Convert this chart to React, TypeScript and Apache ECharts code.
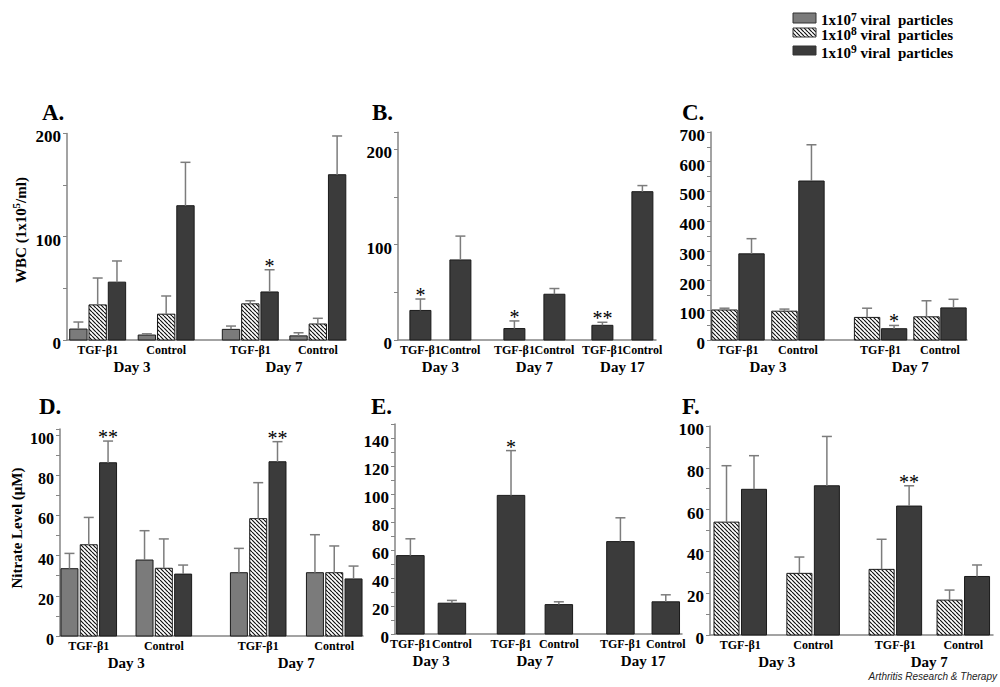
import React, { useEffect, useRef } from "react";
import * as echarts from "echarts";

// ---------- data ----------
const DOSE_EXPONENTS = ["7", "8", "9"];
const GROUPS_4 = ["TGF-β1", "Control", "TGF-β1", "Control"];
const GROUPS_6 = ["TGF-β1", "Control", "TGF-β1", "Control", "TGF-β1", "Control"];
const DAYS_2 = ["Day 3", "Day 7"];
const DAYS_3 = ["Day 3", "Day 7", "Day 17"];

// y tick labels per panel
const TICKS_A = [0, 100, 200];
const TICKS_B = [0, 100, 200];
const TICKS_C = [0, 100, 200, 300, 400, 500, 600, 700];
const TICKS_D = [0, 20, 40, 60, 80, 100];
const TICKS_E = [0, 20, 40, 60, 80, 100, 120, 140];
const TICKS_F = [0, 20, 40, 60, 80, 100];

// A. WBC, groups: D3 TGF, D3 Ctrl, D7 TGF, D7 Ctrl
const A_V7 = [10.6, 4.8, 10.3, 4.0];
const A_E7 = [17.4, 6.0, 13.5, 7.0];
const A_V8 = [34, 25, 35, 15.5];
const A_E8 = [60, 42.6, 38, 21];
const A_V9 = [56, 130, 46.5, 160];
const A_E9 = [76.5, 172, 68, 197.5];
const A_S9 = ["", "", "*", ""];

// B. WBC, 1x10^9 only: D3 TGF, D3 Ctrl, D7 TGF, D7 Ctrl, D17 TGF, D17 Ctrl
const B_V9 = [31, 84, 12, 48, 15.4, 155.6];
const B_E9 = [43, 109, 20, 54, 18.6, 162];
const B_S9 = ["*", "", "*", "", "**", ""];

// C. WBC
const C_V8 = [101, 97, 76, 78];
const C_E8 = [107, 104, 107, 132];
const C_V9 = [290, 535, 38, 108];
const C_E9 = [341, 657, 49, 137];
const C_S9 = ["", "", "*", ""];

// D. Nitrate
const D_V7 = [33.5, 37.8, 31.5, 31.5];
const D_E7 = [41.1, 52.4, 43.6, 50.4];
const D_V8 = [45.4, 33.7, 58.4, 31.5];
const D_E8 = [59, 48.3, 76.3, 44.8];
const D_V9 = [86.2, 30.8, 86.7, 28.4];
const D_E9 = [97, 35.3, 96.7, 34.8];
const D_S9 = ["**", "", "**", ""];

// E. Nitrate, 1x10^9 only
const E_V9 = [56, 22, 99, 21, 66, 23];
const E_E9 = [68, 24, 131, 23, 83, 28];
const E_S9 = ["", "", "*", "", "", ""];

// F. Nitrate
const F_V8 = [54, 29.5, 31.4, 16.7];
const F_E8 = [81, 37.3, 45.8, 21.5];
const F_V9 = [69.7, 71.4, 61.7, 28];
const F_E9 = [85.8, 95, 71.4, 33.5];
const F_S9 = ["", "", "**", ""];

// ---------- styles ----------
const SERIF = "Liberation Serif";
const AXIS_GRAY = "#858585";
const ERR_GRAY = "#7c7c7c";
const FILL7 = "#7b7b7b";
const FILL9 = "#3b3b3b";

function makeHatch() {
  const s = 4;
  const c = document.createElement("canvas");
  c.width = s;
  c.height = s;
  const ctx = c.getContext("2d")!;
  ctx.fillStyle = "#ffffff";
  ctx.fillRect(0, 0, s, s);
  ctx.strokeStyle = "#111111";
  ctx.lineWidth = 1.2;
  ctx.beginPath();
  for (const k of [-s, 0, s]) {
    ctx.moveTo(k, 0);
    ctx.lineTo(k + s, s);
  }
  ctx.stroke();
  return { image: c, repeat: "repeat", imageWidth: s, imageHeight: s };
}

type SeriesDef = { dose: number; values: number[]; errors: number[]; stars?: string[] };
type PanelDef = {
  letter: string;
  letterPos: [number, number];
  grid: { left: number; top: number; width: number; height: number };
  yMax: number;
  yInterval: number;
  ticks: number[];
  labelSize: number;
  xMax: number;
  groupX: number[];
  barW: number;
  series: SeriesDef[];
  groups: string[];
  days: string[];
};

const PANELS: PanelDef[] = [
  {
    letter: "A.", letterPos: [42, 112],
    grid: { left: 67, top: 133.4, width: 279, height: 206.6 },
    yMax: 200, yInterval: 50, ticks: TICKS_A, labelSize: 17,
    xMax: 14.46, groupX: [0.59, 4.14, 8.5, 12.0], barW: 0.9,
    series: [
      { dose: 0, values: A_V7, errors: A_E7 },
      { dose: 1, values: A_V8, errors: A_E8 },
      { dose: 2, values: A_V9, errors: A_E9, stars: A_S9 },
    ],
    groups: GROUPS_4, days: DAYS_2,
  },
  {
    letter: "B.", letterPos: [372, 112],
    grid: { left: 398, top: 132.2, width: 258, height: 207.8 },
    yMax: 218, yInterval: 50, ticks: TICKS_B, labelSize: 17,
    xMax: 6.45, groupX: [0.56, 1.56, 2.91, 3.91, 5.11, 6.11], barW: 0.525,
    series: [{ dose: 2, values: B_V9, errors: B_E9, stars: B_S9 }],
    groups: GROUPS_6, days: DAYS_3,
  },
  {
    letter: "C.", letterPos: [682, 112],
    grid: { left: 711, top: 132, width: 256, height: 208 },
    yMax: 700, yInterval: 50, ticks: TICKS_C, labelSize: 17,
    xMax: 9.48, groupX: [0.5, 2.72, 5.78, 7.98], barW: 0.94,
    series: [
      { dose: 1, values: C_V8, errors: C_E8 },
      { dose: 2, values: C_V9, errors: C_E9, stars: C_S9 },
    ],
    groups: GROUPS_4, days: DAYS_2,
  },
  {
    letter: "D.", letterPos: [39, 406],
    grid: { left: 60, top: 429, width: 303, height: 207 },
    yMax: 103, yInterval: 10, ticks: TICKS_D, labelSize: 16,
    xMax: 15.7, groupX: [0.49, 4.38, 9.27, 13.21], barW: 0.88,
    series: [
      { dose: 0, values: D_V7, errors: D_E7 },
      { dose: 1, values: D_V8, errors: D_E8 },
      { dose: 2, values: D_V9, errors: D_E9, stars: D_S9 },
    ],
    groups: GROUPS_4, days: DAYS_2,
  },
  {
    letter: "E.", letterPos: [371, 406],
    grid: { left: 395, top: 424, width: 287, height: 210 },
    yMax: 150, yInterval: 10, ticks: TICKS_E, labelSize: 17,
    xMax: 10.44, groupX: [0.56, 2.07, 4.22, 5.96, 8.2, 9.85], barW: 1.0,
    series: [{ dose: 2, values: E_V9, errors: E_E9, stars: E_S9 }],
    groups: GROUPS_6, days: DAYS_3,
  },
  {
    letter: "F.", letterPos: [682, 406],
    grid: { left: 710, top: 426, width: 283, height: 209 },
    yMax: 100, yInterval: 10, ticks: TICKS_F, labelSize: 17,
    xMax: 10.29, groupX: [0.6, 3.25, 6.24, 8.71], barW: 0.91,
    series: [
      { dose: 1, values: F_V8, errors: F_E8 },
      { dose: 2, values: F_V9, errors: F_E9, stars: F_S9 },
    ],
    groups: GROUPS_4, days: DAYS_2,
  },
];

function buildOption(hatch: any) {
  const fills = [FILL7, hatch, FILL9];
  const grids: any[] = [];
  const xAxes: any[] = [];
  const yAxes: any[] = [];
  const series: any[] = [];
  const graphics: any[] = [];

  PANELS.forEach((p, pi) => {
    grids.push({ ...p.grid });
    xAxes.push({
      type: "value", gridIndex: pi, min: 0, max: p.xMax,
      axisLine: { show: true, onZero: false, lineStyle: { color: AXIS_GRAY, width: 1.5 } },
      axisTick: { show: false }, axisLabel: { show: false }, splitLine: { show: false },
    });
    yAxes.push({
      type: "value", gridIndex: pi, min: 0, max: p.yMax, interval: p.yInterval,
      axisLine: { show: true, lineStyle: { color: AXIS_GRAY, width: 1.5 } },
      axisTick: { show: true, length: 4, lineStyle: { color: AXIS_GRAY, width: 1 } },
      splitLine: { show: false },
      axisLabel: { show: false },
    });

    // y tick labels, placed through the y scale
    series.push({
      type: "custom", xAxisIndex: pi, yAxisIndex: pi, silent: true, z: 4,
      data: p.ticks.map((t) => [0, t]),
      renderItem: (params: any, api: any) => {
        const pt = api.coord([0, api.value(1)]);
        return {
          type: "text", x: pt[0] - 6, y: pt[1] + 3.5,
          style: {
            text: String(api.value(1)), fill: "#000", fontFamily: SERIF, fontWeight: "bold",
            fontSize: p.labelSize, align: "right", verticalAlign: "middle",
          },
        };
      },
    });

    const nS = p.series.length;
    p.series.forEach((s, k) => {
      const data = s.values.map((v, g) => [p.groupX[g] + k, v, s.errors[g], g]);
      series.push({
        type: "custom", xAxisIndex: pi, yAxisIndex: pi, data, silent: true, z: 3,
        renderItem: (params: any, api: any) => {
          const x = api.value(0);
          const v = api.value(1);
          const e = api.value(2);
          const g = api.value(3);
          const base = api.coord([x, 0]);
          const top = api.coord([x, v]);
          const et = api.coord([x, e]);
          const w = api.size([p.barW, 0])[0];
          const children: any[] = [
            {
              type: "rect",
              shape: { x: base[0] - w / 2, y: top[1], width: w, height: base[1] - top[1] },
              style: { fill: fills[s.dose], stroke: "#1a1a1a", lineWidth: 1 },
            },
            {
              type: "line",
              shape: { x1: base[0], y1: top[1], x2: base[0], y2: et[1] },
              style: { stroke: ERR_GRAY, lineWidth: 1.5 },
            },
            {
              type: "line",
              shape: { x1: base[0] - 5, y1: et[1], x2: base[0] + 5, y2: et[1] },
              style: { stroke: ERR_GRAY, lineWidth: 1.5 },
            },
          ];
          const star = s.stars ? s.stars[g] : "";
          if (star) {
            children.push({
              type: "text", x: base[0], y: et[1] + 6,
              style: {
                text: star, fill: "#000", fontFamily: SERIF, fontSize: 20,
                align: "center", verticalAlign: "bottom",
              },
            });
          }
          return { type: "group", children };
        },
      });
    });

    // category + day labels
    const labelData: number[][] = [];
    const groupCenters = p.groupX.map((gx) => gx + (nS - 1) / 2);
    groupCenters.forEach((c, gi) => labelData.push([c, 0, gi]));
    p.days.forEach((_, di) => {
      const c = (groupCenters[2 * di] + groupCenters[2 * di + 1]) / 2;
      labelData.push([c, 1, di]);
    });
    series.push({
      type: "custom", xAxisIndex: pi, yAxisIndex: pi, data: labelData, silent: true, z: 4,
      renderItem: (params: any, api: any) => {
        const x = api.value(0);
        const kind = api.value(1);
        const idx = api.value(2);
        const pt = api.coord([x, 0]);
        const isDay = kind === 1;
        return {
          type: "text",
          x: pt[0],
          y: pt[1] + (isDay ? 26.5 : 10),
          style: {
            text: isDay ? p.days[idx] : p.groups[idx],
            fill: "#000", fontFamily: SERIF, fontWeight: "bold",
            fontSize: isDay ? 15 : 12, align: "center", verticalAlign: "middle",
          },
        };
      },
    });

    graphics.push({
      type: "text", x: p.letterPos[0], y: p.letterPos[1],
      style: {
        text: p.letter, fill: "#000", fontFamily: SERIF, fontWeight: "bold", fontSize: 23,
        align: "left", verticalAlign: "middle",
      },
    });
  });

  // y-axis titles
  const supRich = {
    n: { fontFamily: SERIF, fontWeight: "bold", fontSize: 15, lineHeight: 18, verticalAlign: "bottom", fill: "#000" },
    s: { fontFamily: SERIF, fontWeight: "bold", fontSize: 11, lineHeight: 18, verticalAlign: "top", fill: "#000", padding: [0, 0, 6, 0] },
  };
  graphics.push({
    type: "text", x: 19, y: 230, rotation: Math.PI / 2,
    style: {
      text: "{n|WBC (1x10}{s|5}{n|/ml)}", rich: supRich, align: "center", verticalAlign: "middle",
    },
  });
  graphics.push({
    type: "text", x: 17, y: 528, rotation: Math.PI / 2,
    style: {
      text: "Nitrate Level (μM)", fill: "#000", fontFamily: SERIF, fontWeight: "bold", fontSize: 15,
      align: "center", verticalAlign: "middle",
    },
  });

  // legend
  const legendRows = [
    { y: 13, h: 10 },
    { y: 28, h: 9 },
    { y: 46, h: 9 },
  ];
  const legRich = {
    n: { fontFamily: SERIF, fontWeight: "bold", fontSize: 15, lineHeight: 17, verticalAlign: "bottom", fill: "#000" },
    s: { fontFamily: SERIF, fontWeight: "bold", fontSize: 11.5, lineHeight: 17, verticalAlign: "top", fill: "#000", padding: [0, 0, 7, 0] },
  };
  DOSE_EXPONENTS.forEach((ex, i) => {
    const r = legendRows[i];
    graphics.push({
      type: "rect", shape: { x: 793, y: r.y, width: 23, height: r.h },
      style: { fill: fills[i], stroke: "#333", lineWidth: 1 },
    });
    graphics.push({
      type: "text", x: 821, y: r.y + r.h / 2 + 1,
      style: { text: `{n|1x10}{s|${ex}}{n| viral  particles}`, rich: legRich, align: "left", verticalAlign: "middle" },
    });
  });

  graphics.push({
    type: "text", x: 997, y: 676,
    style: {
      text: "Arthritis Research & Therapy", fill: "#222",
      fontFamily: "Liberation Sans", fontStyle: "italic", fontSize: 10,
      align: "right", verticalAlign: "middle",
    },
  });

  return {
    animation: false,
    backgroundColor: "#ffffff",
    grid: grids,
    xAxis: xAxes,
    yAxis: yAxes,
    series,
    graphic: graphics,
  };
}

export default function App() {
  const ref = useRef<HTMLDivElement>(null);
  useEffect(() => {
    if (!ref.current) return;
    const chart = echarts.init(ref.current, null, { renderer: "svg" });
    chart.setOption(buildOption(makeHatch()) as any);
    return () => chart.dispose();
  }, []);
  return (
    <div
      ref={ref}
      style={{ position: "fixed", left: 0, top: 0, width: 1000, height: 687, background: "#fff" }}
    />
  );
}
